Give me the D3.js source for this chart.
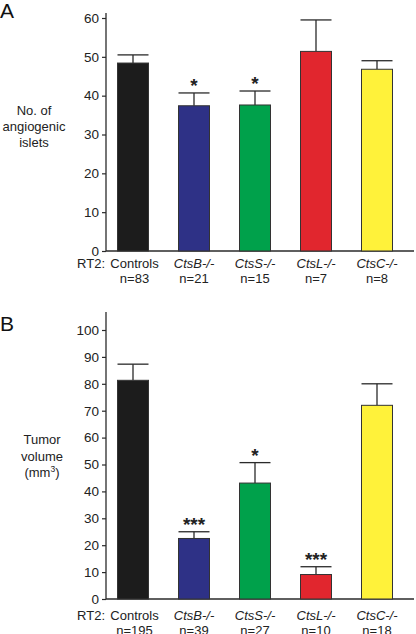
<!DOCTYPE html>
<html><head><meta charset="utf-8">
<script src="https://cdn.jsdelivr.net/npm/d3@7"></script>
<style>
html,body{margin:0;padding:0;background:#fff;}
svg{display:block;font-family:Arial,"Liberation Sans",sans-serif;}
</style></head>
<body>
<svg id="c" width="416" height="634"></svg>
<script>
const categories = ["Controls","CtsB-/-","CtsS-/-","CtsL-/-","CtsC-/-"];
const colors = ["#1c1c1c","#2e3186","#00a14b","#e1262e","#fff23a"];
const isletsN = ["n=83","n=21","n=15","n=7","n=8"];
const islets = [48.4, 37.4, 37.6, 51.4, 46.8];
const isletsErr = [2.1, 3.3, 3.6, 8.1, 2.2];
const isletsSig = ["", "*", "*", "", ""];
const isletsTicks = [0,10,20,30,40,50,60];
const volumeN = ["n=195","n=39","n=27","n=10","n=18"];
const volume = [81.3, 22.5, 43.1, 9.1, 72.0];
const volumeErr = [6.0, 2.5, 7.6, 2.9, 8.0];
const volumeSig = ["", "***", "*", "***", ""];
const volumeTicks = [0,10,20,30,40,50,60,70,80,90,100];

const svg = d3.select("#c");
const x = d3.scalePoint().domain(categories).range([133, 377]);
const barW = 31;
const dark = "#2a2a2a";

function panel(opts){
  const g = svg.append("g");
  const y = d3.scaleLinear().domain([0, opts.max]).range([opts.y0, opts.y1]);
  g.append("text").attr("x", 0).attr("y", opts.letterY).attr("font-size", 21).attr("fill","#111").text(opts.letter);
  const ax = g.append("g").attr("transform", `translate(106,0)`)
    .call(d3.axisLeft(y).tickValues(opts.ticks).tickSize(4).tickPadding(3).tickFormat(d3.format("d")));
  ax.select(".domain").remove();
  ax.selectAll(".tick line").attr("stroke", dark).attr("stroke-width", 1.2);
  ax.selectAll(".tick text").attr("font-size", 13.5).attr("fill", "#222").attr("font-family","Arial, 'Liberation Sans', sans-serif");
  g.append("line").attr("x1",106).attr("x2",106).attr("y1",opts.axisTop).attr("y2",opts.y0)
    .attr("stroke",dark).attr("stroke-width",1.3);
  g.append("line").attr("x1",106).attr("x2",414).attr("y1",opts.y0).attr("y2",opts.y0)
    .attr("stroke",dark).attr("stroke-width",1.3);
  categories.forEach((c,i)=>{
    const cx = x(c);
    const top = y(opts.vals[i] + opts.err[i]);
    g.append("line").attr("x1",cx).attr("x2",cx).attr("y1",y(opts.vals[i])).attr("y2",top)
      .attr("stroke",dark).attr("stroke-width",1.3);
    g.append("line").attr("x1",cx-barW/2).attr("x2",cx+barW/2).attr("y1",top).attr("y2",top)
      .attr("stroke",dark).attr("stroke-width",1.3);
    if (opts.sig[i]) {
      g.append("text").attr("x",cx).attr("y",top-1).attr("text-anchor","middle")
        .attr("font-size",19).attr("font-weight","bold").attr("fill","#222").text(opts.sig[i]);
    }
  });
  g.selectAll("rect.bar").data(opts.vals).join("rect").attr("class","bar")
    .attr("x",(d,i)=>x(categories[i])-barW/2).attr("width",barW)
    .attr("y",d=>y(d)).attr("height",d=>opts.y0-y(d))
    .attr("fill",(d,i)=>colors[i]).attr("stroke","#333").attr("stroke-width",1);
  g.append("text").attr("x",105).attr("y",opts.lab1).attr("text-anchor","end").attr("font-size",13).attr("fill","#222").text("RT2:");
  categories.forEach((c,i)=>{
    g.append("text").attr("x",x(c)+(i===0?1.5:0)).attr("y",opts.lab1).attr("text-anchor","middle")
      .attr("font-size",13).attr("fill","#222").attr("font-style", i===0?"normal":"italic").text(c);
    g.append("text").attr("x",x(c)+(i===0?1.5:0)).attr("y",opts.lab2).attr("text-anchor","middle")
      .attr("font-size",13).attr("fill","#222").text(opts.n[i]);
  });
  opts.title.forEach((t,k)=>{
    const tx = g.append("text").attr("x",opts.titleX).attr("y",opts.titleY[k]).attr("text-anchor","middle")
      .attr("font-size",13).attr("fill","#222");
    if (t === "(mm3)") {
      tx.append("tspan").text("(mm");
      tx.append("tspan").attr("font-size",8.5).attr("dy",-5).text("3");
      tx.append("tspan").attr("dy",5).text(")");
    } else tx.text(t);
  });
}

panel({letter:"A", letterY:18, max:60, y0:251, y1:18, axisTop:13, ticks:isletsTicks,
  vals:islets, err:isletsErr, sig:isletsSig, n:isletsN, lab1:267.5, lab2:283,
  title:["No. of","angiogenic","islets"], titleX:34, titleY:[115,131,147]});
panel({letter:"B", letterY:331, max:100, y0:599, y1:330, axisTop:312, ticks:volumeTicks,
  vals:volume, err:volumeErr, sig:volumeSig, n:volumeN, lab1:619.5, lab2:634.5,
  title:["Tumor","volume","(mm3)"], titleX:42, titleY:[444,461,477]});
</script>
</body></html>
